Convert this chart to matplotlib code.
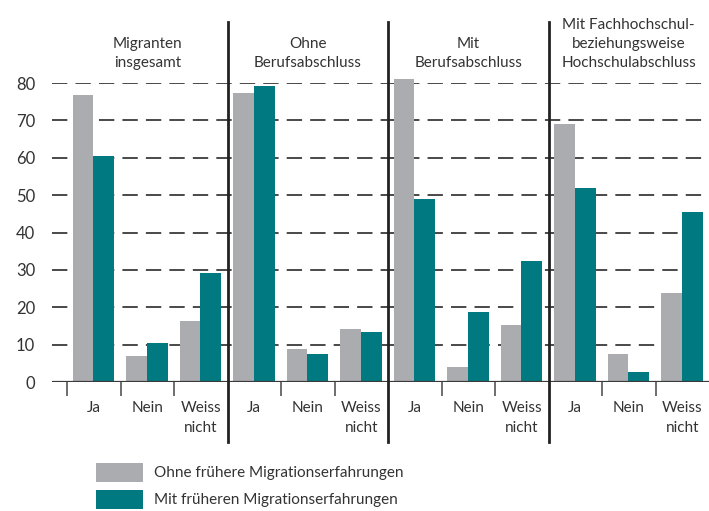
import matplotlib
matplotlib.use('Agg')
import matplotlib.pyplot as plt
import numpy as np

plt.rcParams['font.family'] = ['Lato', 'DejaVu Sans']

groups = ['Migranten\ninsgesamt', 'Ohne\nBerufsabschluss', 'Mit\nBerufsabschluss',
          'Mit Fachhochschul-\nbeziehungsweise\nHochschulabschluss']
answers = ['Ja', 'Nein', 'Weiss\nnicht']
series_names = ['Ohne frühere Migrationserfahrungen', 'Mit früheren Migrationserfahrungen']

# values per group: Ja, Nein, Weiss nicht
ohne = [76.7, 7.0, 16.3,
        77.3, 8.8, 14.2,
        81.0, 4.0, 15.2,
        69.0, 7.5, 23.8]
mit = [60.4, 10.4, 29.2,
       79.1, 7.5, 13.4,
       48.9, 18.7, 32.4,
       51.9, 2.7, 45.5]

gray = '#ABACAF'
teal = '#007A80'
txt = '#333333'

W, H = 709, 511
fig = plt.figure(figsize=(W / 100, H / 100), dpi=100)
ax = fig.add_axes([52 / W, (H - 382) / H, 657 / W, 299 / H])

n = len(ohne)
centers = np.arange(n) + 0.5
bw = 0.385
b1 = ax.bar(centers - bw / 2 - 0.005, ohne, width=bw, color=gray, zorder=3,
            label=series_names[0], clip_on=False)
b2 = ax.bar(centers + bw / 2 - 0.005, mit, width=bw, color=teal, zorder=3,
            label=series_names[1], clip_on=False)

ax.set_xlim(-15 / 53.5, 12)
ax.set_ylim(0, 80)

for s in ax.spines.values():
    s.set_visible(False)

# dashed grid
for v in range(10, 81, 10):
    ax.axhline(v, color='#3a3a3a', lw=1.3, dashes=(8.5, 4.5), zorder=1)
ax.axhline(0, color='#3a3a3a', lw=1.6, zorder=4)

ax.set_yticks(range(0, 81, 10))
ax.tick_params(axis='y', length=0, pad=12, labelsize=12, labelcolor=txt)

ax.set_xticks(centers)
ax.set_xticklabels(answers * 4, linespacing=1.55)
ax.tick_params(axis='x', length=0, pad=14, labelsize=11, labelcolor=txt)

minor = [i for i in range(n) if i % 3 != 0 or i == 0]
ax.set_xticks(minor, minor=True)
ax.tick_params(axis='x', which='minor', length=10, width=1.2, color='#555555', direction='out')

# group separators
for g in range(1, 4):
    ax.axvline(3 * g, ymin=-0.2, ymax=1.205, color='#222222', lw=2.0, clip_on=False, zorder=5)

# group titles
for g, name in enumerate(groups):
    ax.text(3 * g + 1.5, 83.6, name, ha='center', va='bottom', fontsize=11,
            color=txt, linespacing=1.45)

fig.legend(handles=[b1, b2], loc='upper left', bbox_to_anchor=(96 / W, 1 - 463 / H),
           frameon=False, fontsize=11, handlelength=3.1, handleheight=1.5,
           handletextpad=0.7, labelspacing=0.55, labelcolor=txt, borderaxespad=0,
           borderpad=0)

fig.savefig('out.png', dpi=100)
